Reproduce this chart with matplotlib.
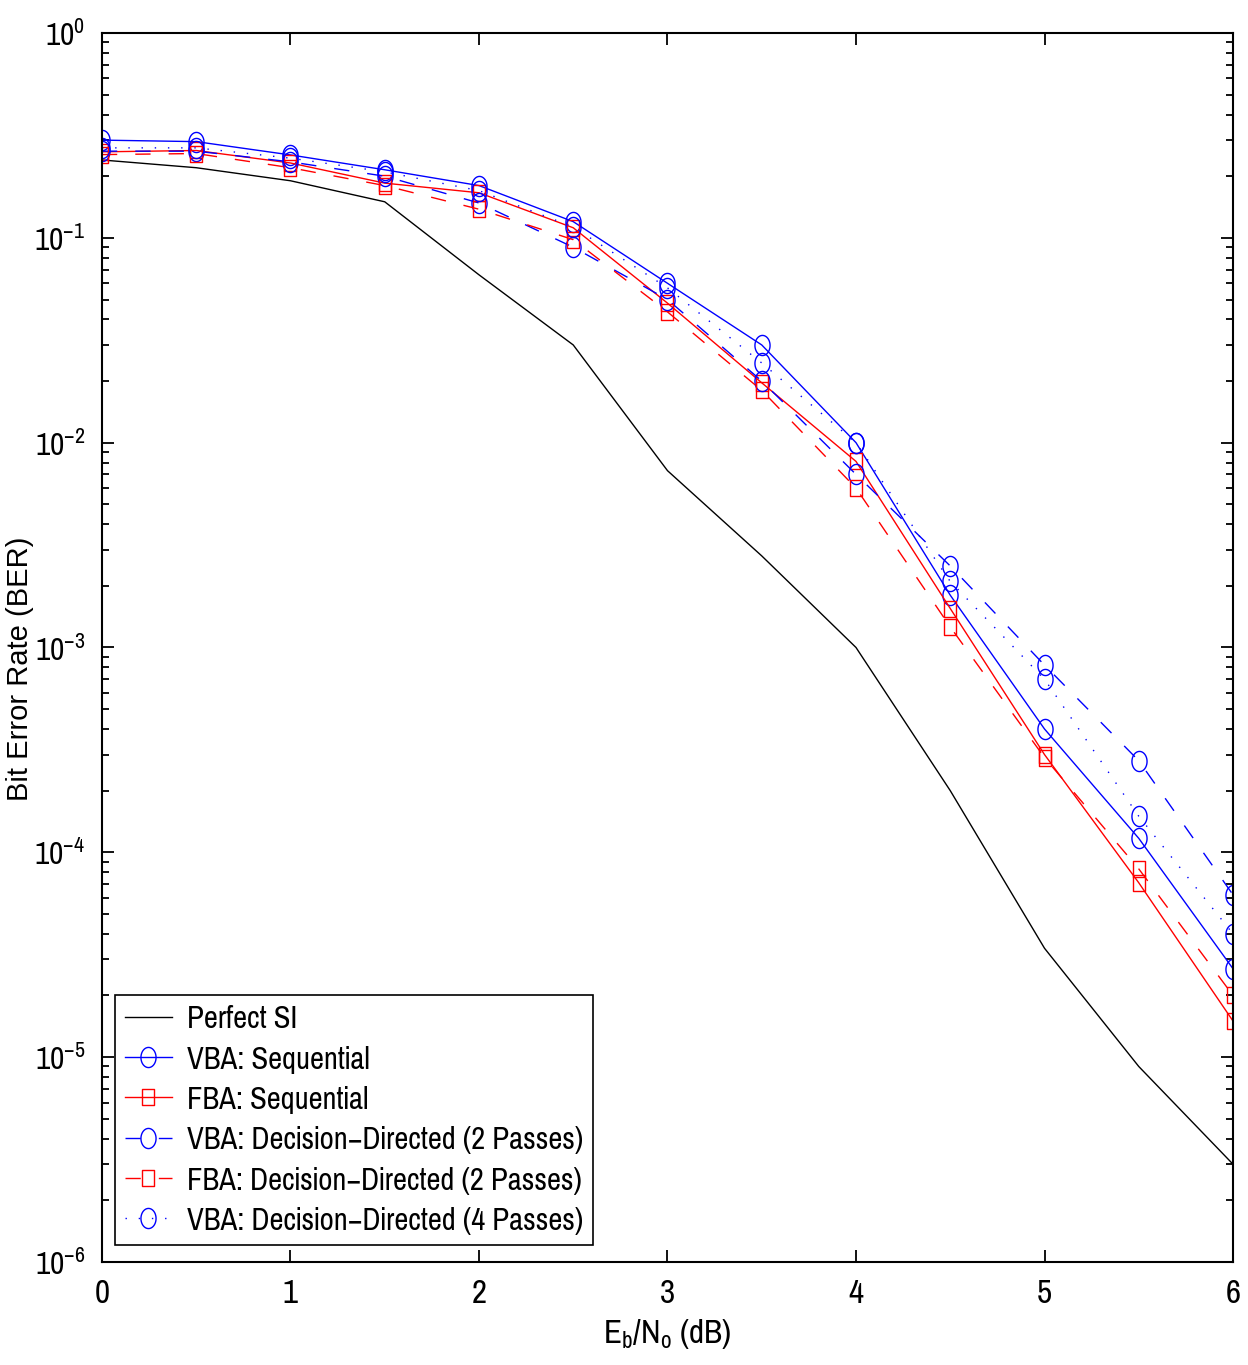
import matplotlib
matplotlib.use('Agg')
import matplotlib.pyplot as plt
import numpy as np
from matplotlib.path import Path
from matplotlib.ticker import LogLocator, NullFormatter, MultipleLocator

# Eb/No grid (dB)
ebno = [0, 0.5, 1, 1.5, 2, 2.5, 3, 3.5, 4, 4.5, 5, 5.5, 6]

# BER curves
perfect_si = [0.24, 0.22, 0.19, 0.15, 0.066, 0.030, 0.0073, 0.0028, 0.0010,
              2.0e-4, 3.4e-5, 9.0e-6, 3.0e-6]
vba_seq = [0.30, 0.295, 0.254, 0.215, 0.18, 0.12, 0.06, 0.030, 0.010,
           1.8e-3, 4.0e-4, 1.17e-4, 2.7e-5]
fba_seq = [0.263, 0.267, 0.232, 0.185, 0.166, 0.112, 0.048, 0.0196, 8.1e-3,
           1.55e-3, 3.0e-4, 7.1e-5, 1.5e-5]
vba_dd2 = [0.265, 0.265, 0.235, 0.20, 0.148, 0.09, 0.05, 0.020, 7.0e-3,
           2.5e-3, 8.2e-4, 2.8e-4, 6.2e-5]
fba_dd2 = [0.255, 0.258, 0.22, 0.18, 0.138, 0.098, 0.0435, 0.018, 6.0e-3,
           1.26e-3, 2.9e-4, 8.3e-5, 2.0e-5]
vba_dd4 = [0.275, 0.275, 0.245, 0.21, 0.17, 0.113, 0.057, 0.0245, 0.010,
           2.1e-3, 7.0e-4, 1.5e-4, 4.0e-5]

labels = ['Perfect SI', 'VBA: Sequential', 'FBA: Sequential',
          'VBA: Decision\u2212Directed (2 Passes)',
          'FBA: Decision\u2212Directed (2 Passes)',
          'VBA: Decision\u2212Directed (4 Passes)']

narrow = ['Pragati Narrow', 'Roboto Condensed', 'DejaVu Sans']
plt.rcParams['font.family'] = narrow
plt.rcParams['mathtext.fontset'] = 'custom'
plt.rcParams['mathtext.rm'] = 'Pragati Narrow'
plt.rcParams['mathtext.it'] = 'Pragati Narrow'
plt.rcParams['axes.unicode_minus'] = True


def tall_marker(kind):
    # slightly stretched markers, taller than wide
    if kind == 'o':
        t = np.linspace(0, 2 * np.pi, 60)
        verts = np.column_stack([0.75 * np.cos(t), np.sin(t)])
        return Path(verts, closed=True)
    verts = np.array([[-0.8, -1], [0.8, -1], [0.8, 1], [-0.8, 1], [-0.8, -1]])
    return Path(verts, closed=True)


circ = tall_marker('o')
sq = tall_marker('s')

fig = plt.figure(figsize=(12.48, 13.65), dpi=100)
ax = fig.add_axes([0.0817, 0.0755, 0.9063, 0.9003])

lw = 1.0
ax.semilogy(ebno, perfect_si, color='k', lw=lw, label=labels[0])
ax.semilogy(ebno, vba_seq, color='b', lw=lw, marker=circ, ms=14.5,
            mfc='none', mew=1.0, label=labels[1])
ax.semilogy(ebno, fba_seq, color='r', lw=lw, marker=sq, ms=11.5,
            mfc='none', mew=1.0, label=labels[2])
ax.semilogy(ebno, vba_dd2, color='b', lw=lw, dashes=(11, 13), marker=circ,
            ms=14.5, mfc='none', mew=1.0, label=labels[3])
ax.semilogy(ebno, fba_dd2, color='r', lw=lw, dashes=(11, 13), marker=sq,
            ms=11.5, mfc='none', mew=1.0, label=labels[4])
ax.semilogy(ebno, vba_dd4, color='b', lw=lw, dashes=(1, 8.5), marker=circ,
            ms=14.5, mfc='none', mew=1.0, label=labels[5])

ax.set_xlim(0, 6)
ax.set_ylim(1e-6, 1)
ax.xaxis.set_major_locator(MultipleLocator(1))
ax.yaxis.set_major_locator(LogLocator(base=10, numticks=10))
ax.yaxis.set_minor_locator(LogLocator(base=10, subs=np.arange(2, 10), numticks=20))
ax.yaxis.set_minor_formatter(NullFormatter())

for s in ax.spines.values():
    s.set_linewidth(1.5)
ax.tick_params(which='both', direction='in', top=True, right=True, width=1.3)
ax.tick_params(which='major', length=8.5)
ax.tick_params(axis='x', which='major', pad=12, labelsize=26)
ax.tick_params(axis='y', which='major', pad=12, labelsize=24.5)
ax.tick_params(which='minor', length=5)

ax.set_xlabel(r'E$_\mathrm{b}$/N$_\mathrm{o}$ (dB)', fontsize=26)
ax.xaxis.set_label_coords(0.5, -0.045)
ax.set_ylabel('Bit Error Rate (BER)', fontsize=21,
              family=['Liberation Sans', 'DejaVu Sans'])
ax.yaxis.set_label_coords(-0.06, 0.4825)

leg = ax.legend(loc='lower left', bbox_to_anchor=(0.0115, 0.0138),
                borderaxespad=0, fontsize=24, frameon=True, fancybox=False,
                edgecolor='k', framealpha=1, handlelength=1.4,
                handletextpad=0.45, labelspacing=0.36, borderpad=0.3)
leg.get_frame().set_linewidth(1.2)

fig.savefig('out.png', dpi=100)
